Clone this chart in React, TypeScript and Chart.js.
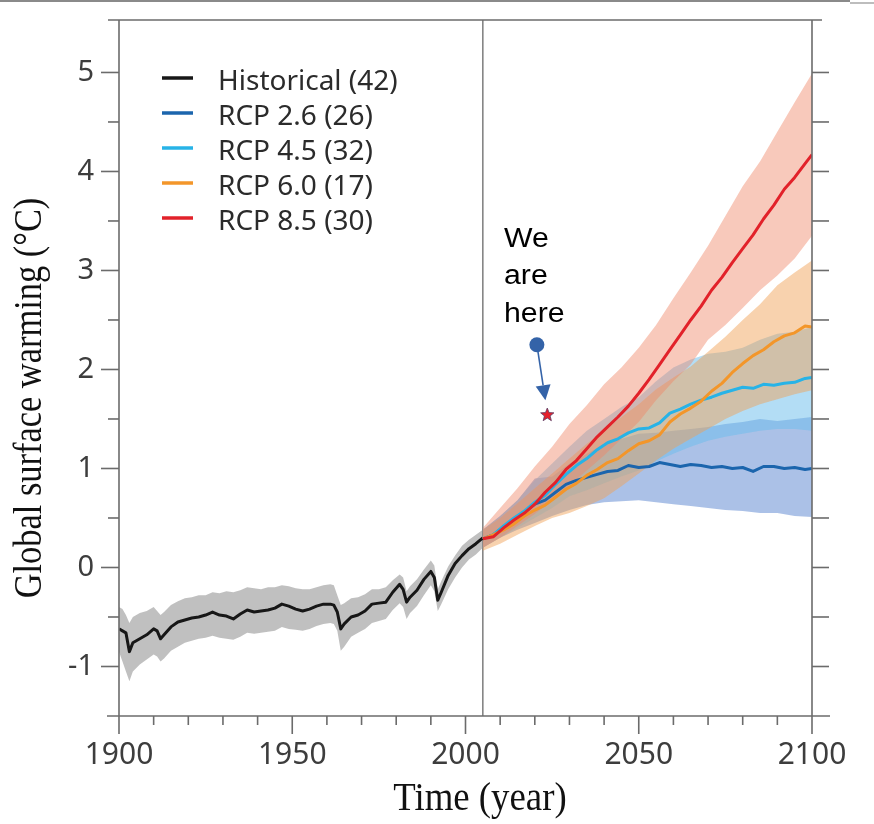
import React, { useEffect, useRef } from "react";
import { Chart, registerables } from "chart.js";

Chart.register(...registerables);

// ---------------- Data ----------------
const histYears = [
  1900, 1901, 1902, 1903, 1904, 1906, 1908, 1910, 1911, 1912, 1913,
  1915, 1917, 1919, 1921, 1923, 1925, 1927, 1929, 1931, 1933, 1935, 1937, 1939, 1941, 1943, 1945, 1947, 1949, 1951, 1953, 1955, 1957, 1959, 1961,
  1962, 1963, 1964, 1965,
  1967, 1969, 1971, 1973, 1975, 1977, 1979, 1981,
  1982, 1983, 1984,
  1986, 1988, 1990,
  1991, 1992, 1993,
  1995, 1997, 1999, 2001, 2003, 2005,
];
const histMean = [
  -0.62, -0.64, -0.66, -0.85, -0.76, -0.72, -0.68, -0.62, -0.64, -0.72, -0.68,
  -0.6, -0.55, -0.53, -0.51, -0.5, -0.48, -0.45, -0.48, -0.49, -0.52, -0.47, -0.43, -0.45, -0.44, -0.43, -0.41, -0.37, -0.39, -0.42, -0.44, -0.42, -0.39, -0.37, -0.37,
  -0.38, -0.45, -0.62, -0.57,
  -0.5, -0.48, -0.44, -0.37, -0.36, -0.35, -0.25, -0.17,
  -0.22, -0.35, -0.3,
  -0.23, -0.12, -0.04,
  -0.1, -0.33, -0.25,
  -0.08, 0.04, 0.12, 0.19, 0.24, 0.3,
];
const histUpper = [
  -0.4, -0.42, -0.48, -0.56, -0.5, -0.46, -0.44, -0.4, -0.44, -0.48, -0.45,
  -0.38, -0.34, -0.31, -0.3, -0.28, -0.28, -0.25, -0.26, -0.24, -0.25, -0.23, -0.2, -0.21, -0.22, -0.2, -0.2, -0.18, -0.19, -0.21, -0.22, -0.22, -0.2, -0.18, -0.17,
  -0.18, -0.28, -0.38, -0.36,
  -0.31, -0.3, -0.27, -0.22, -0.22, -0.2, -0.13, -0.07,
  -0.1, -0.24, -0.19,
  -0.12, -0.02, 0.07,
  0.02, -0.22, -0.14,
  0.01, 0.12, 0.22, 0.28, 0.33, 0.38,
];
const histLower = [
  -0.85, -0.95, -1.05, -1.15, -1.05, -0.98, -0.93, -0.88, -0.9, -0.95, -0.92,
  -0.84, -0.8, -0.76, -0.74, -0.72, -0.71, -0.69, -0.71, -0.72, -0.73, -0.7, -0.66, -0.67, -0.66, -0.65, -0.64, -0.6, -0.62, -0.63, -0.64, -0.62, -0.59, -0.57, -0.56,
  -0.57, -0.64, -0.84, -0.8,
  -0.7, -0.66, -0.62, -0.56, -0.54, -0.52, -0.43, -0.36,
  -0.4, -0.52, -0.46,
  -0.39, -0.28, -0.18,
  -0.24, -0.44, -0.37,
  -0.22, -0.1, 0.0, 0.08, 0.13, 0.2,
];

const projYears = [
  2005, 2008, 2011, 2014, 2017, 2020, 2023, 2026, 2029, 2032, 2035, 2038, 2041, 2044, 2047, 2050,
  2053, 2056, 2059, 2062, 2065, 2068, 2071, 2074, 2077, 2080, 2083, 2086, 2089, 2092, 2095, 2098, 2100,
];
const rcp26Mean = [
  0.29, 0.33, 0.41, 0.49, 0.56, 0.64, 0.68, 0.76, 0.84, 0.88, 0.91, 0.94, 0.97, 0.98, 1.03, 1.01,
  1.02, 1.06, 1.04, 1.02, 1.04, 1.03, 1.01, 1.02, 1.0, 1.01, 0.97, 1.02, 1.02, 1.0, 1.01, 0.99, 1.0,
];
const rcp45Mean = [
  0.29, 0.33, 0.42, 0.5, 0.57, 0.66, 0.73, 0.84, 0.94, 1.03, 1.1, 1.19, 1.26, 1.3, 1.36, 1.4,
  1.41, 1.46, 1.56, 1.6, 1.65, 1.69, 1.72, 1.76, 1.79, 1.82, 1.81, 1.85, 1.84, 1.86, 1.87, 1.91, 1.92,
];
const rcp60Mean = [
  0.29, 0.33, 0.38, 0.44, 0.52, 0.58, 0.63, 0.71, 0.79, 0.85, 0.93, 0.99, 1.06, 1.1, 1.18, 1.25,
  1.28, 1.34, 1.47, 1.55, 1.61, 1.68, 1.78, 1.86, 1.97, 2.06, 2.14, 2.2, 2.28, 2.34, 2.37, 2.44, 2.43,
];
const rcp85Mean = [
  0.29, 0.31, 0.4, 0.48, 0.55, 0.64, 0.76, 0.86, 0.99, 1.08, 1.2, 1.32, 1.42, 1.52, 1.63, 1.76,
  1.9, 2.05, 2.2, 2.35, 2.5, 2.64, 2.8, 2.93, 3.08, 3.22, 3.36, 3.52, 3.66, 3.82, 3.94, 4.08, 4.17,
];

const bandYears = [
  2005, 2010, 2015, 2020, 2025, 2030, 2035, 2040, 2045, 2050,
  2055, 2060, 2065, 2070, 2075, 2080, 2085, 2090, 2095, 2100,
];
const rcp85Upper = [0.4, 0.6, 0.8, 1.02, 1.22, 1.45, 1.64, 1.85, 2.02, 2.22, 2.45, 2.72, 2.98, 3.25, 3.55, 3.85, 4.1, 4.4, 4.7, 4.99];
const rcp85Lower = [0.2, 0.3, 0.42, 0.54, 0.68, 0.83, 0.98, 1.13, 1.3, 1.47, 1.69, 1.88, 2.05, 2.3, 2.45, 2.62, 2.8, 2.95, 3.12, 3.35];
const rcp60Upper = [0.38, 0.5, 0.65, 0.8, 0.95, 1.1, 1.25, 1.38, 1.52, 1.65, 1.8, 1.92, 2.03, 2.18, 2.33, 2.5, 2.66, 2.85, 2.98, 3.1];
const rcp60Lower = [0.17, 0.24, 0.33, 0.42, 0.5, 0.55, 0.62, 0.7, 0.82, 0.95, 1.08, 1.2, 1.3, 1.4, 1.5, 1.58, 1.65, 1.7, 1.75, 1.79];
const rcp45Upper = [0.38, 0.52, 0.68, 0.88, 1.05, 1.22, 1.38, 1.5, 1.62, 1.72, 1.88, 2.02, 2.1, 2.16, 2.18, 2.22, 2.3, 2.36, 2.38, 2.43];
const rcp45Lower = [0.2, 0.3, 0.4, 0.5, 0.6, 0.72, 0.78, 0.85, 0.92, 0.98, 1.07, 1.15, 1.22, 1.28, 1.32, 1.35, 1.38, 1.4, 1.4, 1.38];
const rcp26Upper = [0.38, 0.52, 0.68, 0.9, 0.92, 1.05, 1.15, 1.25, 1.3, 1.35, 1.36, 1.38, 1.4, 1.42, 1.45, 1.47, 1.5, 1.48, 1.5, 1.52];
const rcp26Lower = [0.2, 0.3, 0.38, 0.45, 0.52, 0.58, 0.63, 0.66, 0.67, 0.68, 0.66, 0.64, 0.62, 0.6, 0.58, 0.57, 0.55, 0.55, 0.52, 0.51];

const xTickLabels = [1900, 1950, 2000, 2050, 2100];
const yTickLabels = [-1, 0, 1, 2, 3, 4, 5];
const legendLabels = ["Historical (42)", "RCP 2.6 (26)", "RCP 4.5 (32)", "RCP 6.0 (17)", "RCP 8.5 (30)"];
const annotationLines = ["We", "are", "here"];
const annotationAnchor = { x: 2011.4, y: 3.24 };
const markerDot = { x: 2020.6, y: 2.25 };
const markerStar = { x: 2023.6, y: 1.54 };
const scenarioStart = 2005;

// ---------------- Styles ----------------
const C_HIST = "#171717";
const C_26 = "#1b65ad";
const C_45 = "#27b3e7";
const C_60 = "#f3962a";
const C_85 = "#e2222a";
const legendColors = [C_HIST, C_26, C_45, C_60, C_85];

const FONT_SANS = '"Noto Sans", "DejaVu Sans", sans-serif';
const FONT_SERIF = '"Liberation Serif", "DejaVu Serif", serif';
const FONT_ARIAL = '"Liberation Sans", Arial, sans-serif';
const AXIS_COLOR = "#6b6b6b";

const toPts = (xs: number[], ys: number[]) => xs.map((x, i) => ({ x, y: ys[i] }));

function bandPair(label: string, xs: number[], up: number[], lo: number[], color: string, order: number) {
  return [
    {
      label: label + " upper",
      data: toPts(xs, up),
      borderWidth: 0,
      borderColor: "rgba(0,0,0,0)",
      backgroundColor: color,
      pointRadius: 0,
      fill: "+1",
      order,
      tension: 0,
    },
    {
      label: label + " lower",
      data: toPts(xs, lo),
      borderWidth: 0,
      borderColor: "rgba(0,0,0,0)",
      pointRadius: 0,
      fill: false,
      order,
      tension: 0,
    },
  ];
}

function meanLine(label: string, xs: number[], ys: number[], color: string, order: number) {
  return {
    label,
    data: toPts(xs, ys),
    borderColor: color,
    borderWidth: 3,
    pointRadius: 0,
    fill: false,
    order,
    tension: 0,
    borderJoinStyle: "round" as const,
  };
}

function seg(ctx: CanvasRenderingContext2D, x1: number, y1: number, x2: number, y2: number) {
  ctx.beginPath();
  ctx.moveTo(x1, y1);
  ctx.lineTo(x2, y2);
  ctx.stroke();
}

const decorations = {
  id: "decorations",
  beforeDatasetsDraw(chart: any) {
    const { ctx, chartArea, scales } = chart;
    const px = scales.x.getPixelForValue(scenarioStart);
    ctx.save();
    ctx.strokeStyle = "#7d7d7d";
    ctx.lineWidth = 1.5;
    seg(ctx, px, chartArea.top, px, chartArea.bottom);
    ctx.restore();
  },
  afterDraw(chart: any) {
    const { ctx, chartArea, scales } = chart;
    const x = scales.x;
    const y = scales.y;
    const L = chartArea.left;
    const R = chartArea.right;
    const T = chartArea.top;
    const B = chartArea.bottom;
    ctx.save();

    // top page rule
    ctx.fillStyle = "#8a8a8a";
    ctx.fillRect(0, 0, 850, 2);
    ctx.fillStyle = "#bdbdbd";
    ctx.fillRect(850, 2, 24, 2);

    // frame
    ctx.strokeStyle = AXIS_COLOR;
    ctx.lineWidth = 1.6;
    seg(ctx, L, T, L, B);
    seg(ctx, R, T, R, B);
    seg(ctx, L - 11, T, R + 10, T);
    seg(ctx, L - 12, B, R + 18, B);

    // x ticks
    for (let v = 1900; v <= 2100; v += 10) {
      const px = x.getPixelForValue(v);
      const major = v % 50 === 0;
      seg(ctx, px, B, px, B + (major ? 18 : 9));
    }
    // y ticks (left + right)
    for (let v = -1; v <= 5; v += 0.5) {
      const py = y.getPixelForValue(v);
      const major = Number.isInteger(v);
      seg(ctx, L - (major ? 18 : 11), py, L, py);
      seg(ctx, R, py, R + 17, py);
    }

    // legend
    ctx.textAlign = "left";
    ctx.textBaseline = "alphabetic";
    ctx.font = `28px ${FONT_SANS}`;
    legendLabels.forEach((lab, i) => {
      const ly = 78 + 35 * i;
      ctx.strokeStyle = legendColors[i];
      ctx.lineWidth = 3.5;
      seg(ctx, 162, ly, 193, ly);
      ctx.fillStyle = "#2b2b2b";
      ctx.fillText(lab, 218, ly + 12);
    });

    // axis titles
    ctx.fillStyle = "#111";
    ctx.font = `40px ${FONT_SERIF}`;
    ctx.textAlign = "center";
    ctx.save();
    ctx.translate(480, 810);
    ctx.scale(0.92, 1);
    ctx.fillText("Time (year)", 0, 0);
    ctx.restore();
    ctx.save();
    ctx.translate(41, 398);
    ctx.rotate(-Math.PI / 2);
    ctx.scale(0.86, 1);
    ctx.fillText("Global surface warming (\u00B0C)", 0, 0);
    ctx.restore();

    // annotation text
    ctx.fillStyle = "#000";
    ctx.font = `27px ${FONT_ARIAL}`;
    ctx.textAlign = "left";
    const ax = x.getPixelForValue(annotationAnchor.x);
    const ay = y.getPixelForValue(annotationAnchor.y);
    annotationLines.forEach((t, i) => {
      ctx.save();
      ctx.translate(ax - 1, ay + 37.5 * i);
      ctx.scale(1.12, 1);
      ctx.fillText(t, 0, 0);
      ctx.restore();
    });

    // arrow from dot to star
    const dx = x.getPixelForValue(markerDot.x);
    const dy = y.getPixelForValue(markerDot.y);
    const sx = x.getPixelForValue(markerStar.x);
    const sy = y.getPixelForValue(markerStar.y);
    const tipX = dx + (sx - dx) * 0.82;
    const tipY = dy + (sy - dy) * 0.79;
    const ang = Math.atan2(tipY - dy, tipX - dx);
    const headLen = 15;
    const headHalf = 7.5;
    const bx = tipX - headLen * Math.cos(ang);
    const by = tipY - headLen * Math.sin(ang);
    ctx.strokeStyle = "#3463a8";
    ctx.fillStyle = "#3463a8";
    ctx.lineWidth = 1.6;
    seg(ctx, dx, dy, bx, by);
    ctx.beginPath();
    ctx.moveTo(tipX, tipY);
    ctx.lineTo(bx + headHalf * Math.sin(ang), by - headHalf * Math.cos(ang));
    ctx.lineTo(bx - headHalf * Math.sin(ang), by + headHalf * Math.cos(ang));
    ctx.closePath();
    ctx.fill();
    ctx.beginPath();
    ctx.arc(dx, dy, 7.5, 0, Math.PI * 2);
    ctx.fill();

    // star
    ctx.beginPath();
    for (let k = 0; k < 10; k++) {
      const r = k % 2 === 0 ? 7 : 3;
      const a = -Math.PI / 2 + (k * Math.PI) / 5;
      const px = sx + r * Math.cos(a);
      const py = sy + r * Math.sin(a);
      if (k === 0) ctx.moveTo(px, py);
      else ctx.lineTo(px, py);
    }
    ctx.closePath();
    ctx.fillStyle = "#e5202b";
    ctx.fill();
    ctx.strokeStyle = "#5b3b63";
    ctx.lineWidth = 0.8;
    ctx.stroke();

    ctx.restore();
  },
};

export default function App() {
  const canvasRef = useRef<HTMLCanvasElement | null>(null);

  useEffect(() => {
    if (!canvasRef.current) return;
    const datasets: any[] = [
      meanLine("RCP 8.5", projYears, rcp85Mean, C_85, 1),
      meanLine("RCP 6.0", projYears, rcp60Mean, C_60, 2),
      meanLine("RCP 4.5", projYears, rcp45Mean, C_45, 3),
      meanLine("RCP 2.6", projYears, rcp26Mean, C_26, 4),
      meanLine("Historical", histYears, histMean, C_HIST, 5),
      ...bandPair("RCP 8.5", bandYears, rcp85Upper, rcp85Lower, "rgba(240,135,105,0.45)", 11),
      ...bandPair("RCP 6.0", bandYears, rcp60Upper, rcp60Lower, "rgba(240,160,85,0.48)", 12),
      ...bandPair("RCP 4.5", bandYears, rcp45Upper, rcp45Lower, "rgba(110,190,235,0.52)", 13),
      ...bandPair("RCP 2.6", bandYears, rcp26Upper, rcp26Lower, "rgba(105,145,212,0.56)", 14),
      ...bandPair("Historical", histYears, histUpper, histLower, "rgba(150,150,150,0.6)", 15),
    ];

    const chart = new Chart(canvasRef.current, {
      type: "line",
      data: { datasets },
      plugins: [decorations],
      options: {
        responsive: false,
        animation: false,
        devicePixelRatio: 1,
        events: [],
        layout: { autoPadding: false, padding: { left: 0, right: 62, top: 20, bottom: 0 } },
        plugins: {
          legend: { display: false },
          tooltip: { enabled: false },
        },
        scales: {
          x: {
            type: "linear",
            min: 1900,
            max: 2100,
            afterBuildTicks: (s: any) => {
              s.ticks = xTickLabels.map((v) => ({ value: v }));
            },
            afterFit: (s: any) => {
              s.height = 108;
              s.paddingLeft = 0;
              s.paddingRight = 0;
            },
            ticks: {
              font: { family: FONT_SANS, size: 30 },
              color: "#3d3d3d",
              padding: 21,
              maxRotation: 0,
              autoSkip: false,
              callback: (v: any) => String(v),
            },
            grid: { display: false, drawTicks: false },
            border: { display: false },
          },
          y: {
            type: "linear",
            min: -1.5,
            max: 5.53,
            afterBuildTicks: (s: any) => {
              s.ticks = yTickLabels.map((v) => ({ value: v }));
            },
            afterFit: (s: any) => {
              s.width = 119;
              s.paddingTop = 0;
              s.paddingBottom = 0;
            },
            ticks: {
              font: { family: FONT_SANS, size: 29 },
              color: "#3d3d3d",
              padding: 25,
              autoSkip: false,
              callback: (v: any) => String(v),
            },
            grid: { display: false, drawTicks: false },
            border: { display: false },
          },
        },
      } as any,
    });
    return () => chart.destroy();
  }, []);

  return (
    <div style={{ position: "fixed", left: 0, top: 0, width: 874, height: 824, background: "#fff" }}>
      <canvas ref={canvasRef} width={874} height={824} style={{ display: "block" }} />
    </div>
  );
}
